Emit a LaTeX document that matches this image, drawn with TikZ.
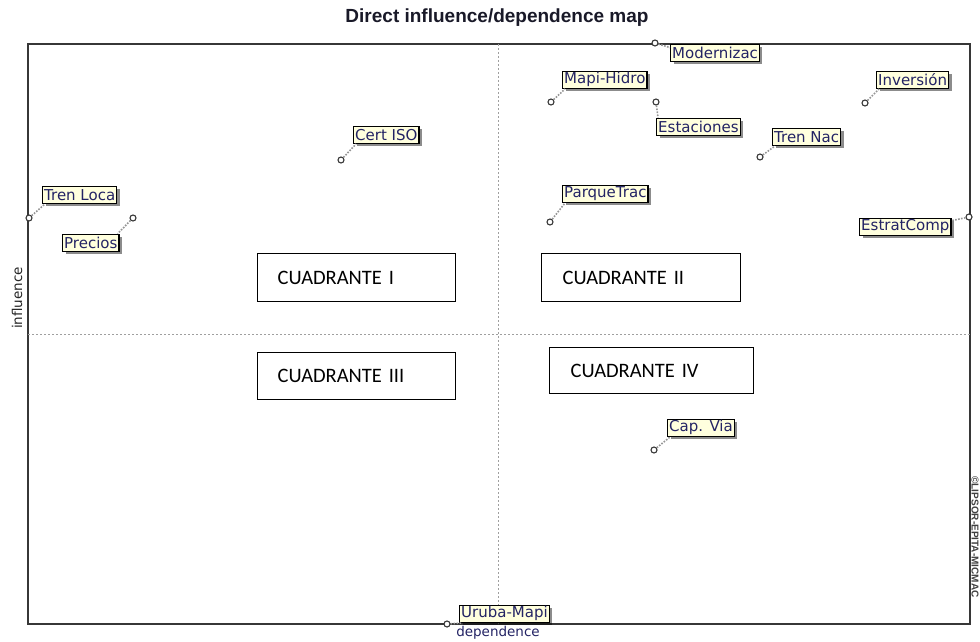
\documentclass[tikz,border=0pt]{standalone}
\usepackage{fontspec}
\setmainfont{DejaVu Sans}
\newfontfamily\titlefont{Liberation Sans}
\newfontfamily\quadfont{Carlito}
\usetikzlibrary{shadows}

\definecolor{labelfill}{RGB}{255,255,222}
\definecolor{labeltext}{RGB}{35,35,100}
\definecolor{frameline}{RGB}{55,55,55}
\definecolor{leadercol}{RGB}{150,150,150}
\definecolor{titlecol}{RGB}{25,25,40}

\tikzset{
  varlabel/.style={draw=black, line width=1.4pt, fill=labelfill, text=labeltext,
    font=\fontsize{15}{15}\selectfont, inner xsep=1.5pt, inner ysep=0pt,
    minimum height=17pt, anchor=south west,
    drop shadow={shadow xshift=3pt, shadow yshift=-3pt, fill=black, opacity=0.45}},
  varpoint/.style={circle, draw=frameline, fill=white, line width=1.1pt,
    inner sep=0pt, minimum size=6pt},
  leaderline/.style={leadercol, line width=1.6pt, dash pattern=on 1.6pt off 1.4pt},
  quadbox/.style={draw=black, line width=1.2pt, fill=white, anchor=north west,
    font=\quadfont\fontsize{20.5}{20.5}\selectfont, inner xsep=20pt, inner ysep=0pt,
    align=left},
  axislabel/.style={font=\fontsize{13.5}{13.5}\selectfont, text=labeltext, inner sep=0pt},
}

\begin{document}
\begin{tikzpicture}[x=1pt,y=-1pt]
\useasboundingbox (0,0) rectangle (980,642);

% title
\node[font=\titlefont\bfseries\fontsize{19}{19}\selectfont, text=titlecol] (title) at (497,18) {Direct influence/dependence map};

% plot frame and the two mid lines
\draw[frameline, line width=1.3pt] (28,44) rectangle (970,624);
\draw[gray!75, line width=0.8pt, dash pattern=on 2pt off 2pt] (498,44) -- (498,624);
\draw[gray!75, line width=0.8pt, dash pattern=on 2pt off 2pt] (28,334) -- (970,334);
\draw[gray, line width=0.8pt] (498,614) -- (498,624);

% axis captions
\node[axislabel] (xlab) at (498,633) {dependence};
\node[axislabel, text=black!85, rotate=90] (ylab) at (17,298) {influence};
\node[font=\titlefont\bfseries\fontsize{10}{10}\selectfont, text=black!75, rotate=-90, inner sep=0pt] (copy) at (975,537) {©LIPSOR-EPITA-MICMAC};

% quadrant boxes
\node[quadbox, text width=158pt, minimum height=48pt] (q1) at (257,253) {CUADRANTE I};
\node[quadbox, text width=157pt, minimum height=48pt, inner xsep=21pt] (q2) at (541,253) {CUADRANTE II};
\node[quadbox, text width=158pt, minimum height=47pt] (q3) at (257,352) {CUADRANTE III};
\node[quadbox, text width=162pt, minimum height=46pt, inner xsep=21pt] (q4) at (549,347) {CUADRANTE IV};

% variable points
\node[varpoint] (pMod) at (655,43) {};
\node[varpoint] (pMapi) at (551,102) {};
\node[varpoint] (pEst) at (656,102) {};
\node[varpoint] (pTrenN) at (760,157) {};
\node[varpoint] (pInv) at (865,103) {};
\node[varpoint] (pCert) at (341,160) {};
\node[varpoint] (pTrenL) at (29,218) {};
\node[varpoint] (pPre) at (133,218) {};
\node[varpoint] (pParq) at (550,222) {};
\node[varpoint] (pEstr) at (969,217) {};
\node[varpoint] (pCap) at (654,450) {};
\node[varpoint] (pUru) at (447,624) {};

% variable labels
\node[varlabel] (lMod) at (670,62) {Modernizac\hspace{-4pt}};
\node[varlabel] (lMapi) at (562,89) {Mapi-Hidro};
\node[varlabel] (lEst) at (656,136) {Estaciones};
\node[varlabel] (lTrenN) at (772,146) {Tren Nac\hspace{-3pt}};
\node[varlabel] (lInv) at (876,89) {Inversión};
\node[varlabel] (lCert) at (353,144) {Cert ISO};
\node[varlabel] (lTrenL) at (42,204) {Tren Loca};
\node[varlabel] (lPre) at (62,252) {Precios};
\node[varlabel] (lParq) at (562,203) {ParqueTrac\hspace{-4pt}};
\node[varlabel] (lEstr) at (859,236) {EstratComp};
\node[varlabel] (lCap) at (667,437) {Cap. Via};
\node[varlabel] (lUru) at (459,623) {Uruba-Mapi\hspace{-4pt}};

% leader lines from points to labels
\draw[leaderline] (pMod) -- ([yshift=-4pt]lMod.north west);
\draw[leaderline] (pMapi) -- ([xshift=3pt]lMapi.south west);
\draw[leaderline] (pEst) -- ([xshift=2pt]lEst.north west);
\draw[leaderline] (pTrenN) -- ([xshift=3pt]lTrenN.south west);
\draw[leaderline] (pInv) -- ([xshift=3pt]lInv.south west);
\draw[leaderline] (pCert) -- ([xshift=3pt]lCert.south west);
\draw[leaderline] (pTrenL) -- ([xshift=3pt]lTrenL.south west);
\draw[leaderline] (pPre) -- ([xshift=-2pt]lPre.north east);
\draw[leaderline] (pParq) -- ([xshift=3pt]lParq.south west);
\draw[leaderline] (pEstr) -- ([yshift=-3pt]lEstr.north east);
\draw[leaderline] (pCap) -- ([xshift=3pt]lCap.south west);
\draw[leaderline] (pUru) -- ([xshift=3pt]lUru.south west);
\end{tikzpicture}
\end{document}
